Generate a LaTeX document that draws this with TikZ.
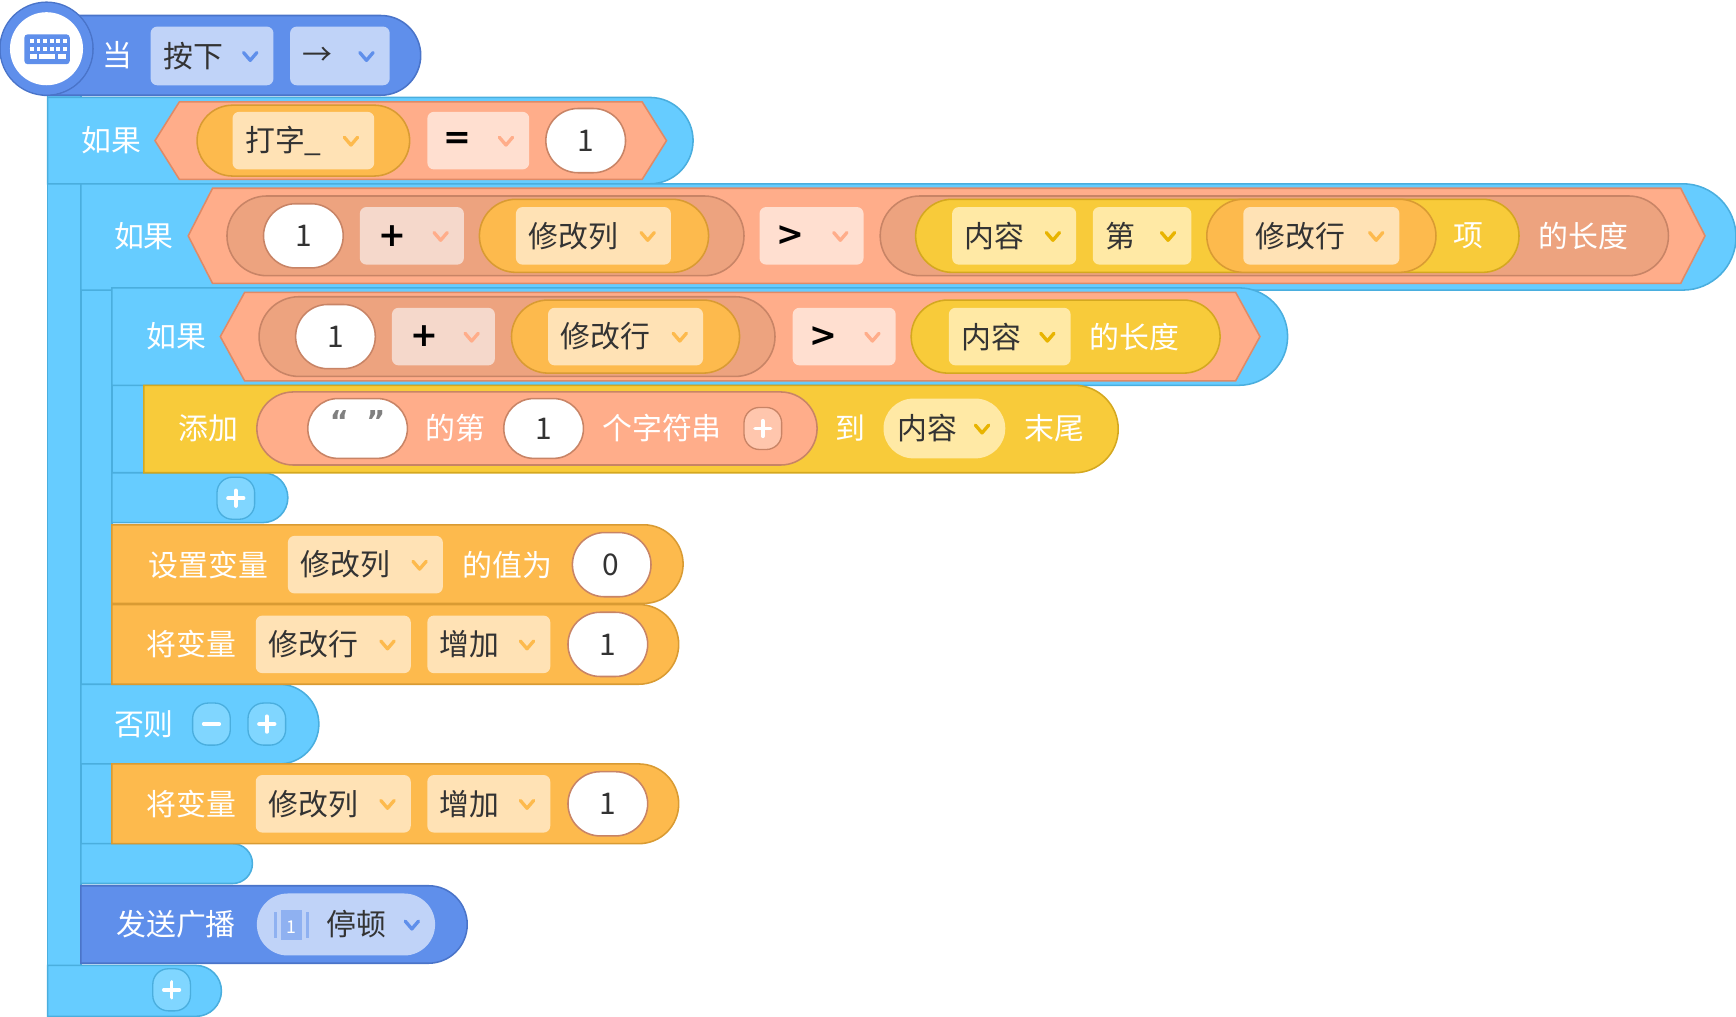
\documentclass[tikz,border=0pt]{standalone}
\usepackage{fontspec}
\setmainfont{Noto Sans CJK SC}
\newfontfamily\symf{DejaVu Sans}
\definecolor{hatblue}{HTML}{5F8FEB}
\definecolor{hatline}{HTML}{4A74C9}
\definecolor{hddc}{HTML}{C0D3F8}
\definecolor{skyc}{HTML}{66CCFF}
\definecolor{skyl}{HTML}{4AAEDE}
\definecolor{skyp}{HTML}{80D6FF}
\definecolor{salc}{HTML}{FFAD8A}
\definecolor{sall}{HTML}{E08A66}
\definecolor{dsalc}{HTML}{EDA37F}
\definecolor{dsall}{HTML}{C88466}
\definecolor{orc}{HTML}{FDBA4D}
\definecolor{orl}{HTML}{D99B33}
\definecolor{orddc}{HTML}{FFE2B5}
\definecolor{ylc}{HTML}{F8CB3A}
\definecolor{yll}{HTML}{D4A820}
\definecolor{ylddc}{HTML}{FFE9A5}
\definecolor{ylchev}{HTML}{E8B400}
\definecolor{sddc}{HTML}{FFDFD0}
\definecolor{lddc}{HTML}{F5D8CB}
\definecolor{txt}{HTML}{333333}
\newcounter{nn}
\newcommand\T[4][wt]{\stepcounter{nn}\node[#1] (t\thenn) at ({#2},{#3}) {#4};}
\newcommand\chev[3]{\draw[#3,line width=1.5pt,line cap=round,line join=round] ({#1-6},{#2-3}) -- ({#1},{#2+4}) -- ({#1+6},{#2-3});}
\newcommand\blk[5]{\pgfmathsetmacro\rr{(#4-#2)/2}\draw[#5] (#1,#2) -- ({#3-\rr},#2) arc(-90:90:\rr) -- (#1,#4) -- cycle;}
\newcommand\pill[5]{\pgfmathsetmacro\rr{(#4-#2)/2}\draw[#5] ({#1+\rr},#2) -- ({#3-\rr},#2) arc(-90:90:\rr) -- ({#1+\rr},#4) arc(90:270:\rr) -- cycle;}
\newcommand\hex[5]{\draw[#5] (#1,{(#2+#4)/2}) -- ({#1+22},#2) -- ({#3-22},#2) -- (#3,{(#2+#4)/2}) -- ({#3-22},#4) -- ({#1+22},#4) -- cycle;}
\newcommand\dd[7]{\draw[#5,rounded corners=3pt] (#1,#2) rectangle (#3,#4);\T[bt,anchor=west]{#1+11}{(#2+#4)/2}{#6}\chev{#3-21}{(#2+#4)/2}{#7}}
\newcommand\btn[4]{\draw[#3,rounded corners=7pt] ({#1-17},{#2-19}) rectangle ({#1+17},{#2+19});
 \draw[white,line width=1.7pt,line cap=round] ({#1-7},#2) -- ({#1+7},#2);
 \ifnum#4=1 \draw[white,line width=1.7pt,line cap=round] (#1,{#2-7}) -- (#1,{#2+7});\fi}
\begin{document}
\begin{tikzpicture}[x=0.5pt,y=-0.5pt,
 wt/.style={white,font=\fontsize{13.5}{15}\selectfont,inner sep=0pt},
 bt/.style={txt,font=\fontsize{13.5}{15}\selectfont,inner sep=0pt},
 sym/.style={black,font=\symf\bfseries\fontsize{15}{15}\selectfont,inner sep=0pt},
 hat/.style={fill=hatblue,draw=hatline,line width=0.7pt},
 hdd/.style={fill=hddc,draw=none},
 sky/.style={fill=skyc,draw=skyl,line width=0.7pt},
 skyb/.style={fill=skyp,draw=skyl,line width=0.6pt},
 salhex/.style={fill=salc,draw=sall,line width=0.7pt},
 sal/.style={fill=salc,draw=dsall,line width=0.7pt},
 salb/.style={fill=salc!70!white,draw=dsall,line width=0.6pt},
 dsal/.style={fill=dsalc,draw=dsall,line width=0.7pt},
 whc/.style={fill=white,draw=dsall,line width=0.7pt},
 varc/.style={fill=orc,draw=orl,line width=0.7pt},
 vdd/.style={fill=orddc,draw=none},
 orblk/.style={fill=orc,draw=orl,line width=0.7pt},
 ylw/.style={fill=ylc,draw=yll,line width=0.7pt},
 ylwblk/.style={fill=ylc,draw=yll,line width=0.7pt},
 ydd/.style={fill=ylddc,draw=none},
 sdd/.style={fill=sddc,draw=none},
 ldd/.style={fill=lddc,draw=none}]
\useasboundingbox (0,0) rectangle (1568,918);
% outer if
\draw[sky] (43,86) rectangle (73,918);
\blk{43}{872}{200}{918}{sky}
\blk{43}{88}{626}{166}{sky}
\T{101}{127}{如果}
\hex{140}{92}{602}{162}{salhex}
\pill{178}{95}{370}{159}{varc}
\dd{210}{101}{338}{153}{vdd}{打字\_}{orc}
\draw[sdd,rounded corners=3pt] (386,101) rectangle (478,153);
\T[sym]{413}{127}{=}\chev{457}{127}{salc}
\pill{493}{98}{565}{156}{whc}\T[bt]{529}{127}{1}
% if-else
\draw[sky] (73,166) rectangle (101,798);
\blk{73}{618}{288}{690}{sky}
\blk{73}{762}{228}{798}{sky}
\blk{73}{166}{1568}{262}{sky}
\T{130}{213}{如果}
\hex{170}{170}{1540}{256}{salhex}
\pill{205}{177}{672}{249}{dsal}
\pill{238}{184}{310}{242}{whc}\T[bt]{274}{213}{1}
\draw[ldd,rounded corners=3pt] (325,187) rectangle (419,239);
\T[sym]{354}{213}{+}\chev{398}{213}{salc}
\pill{433}{180}{640}{246}{varc}
\dd{466}{187}{606}{239}{vdd}{修改列}{orc}
\draw[sdd,rounded corners=3pt] (686,187) rectangle (780,239);
\T[sym]{714}{213}{>}\chev{759}{213}{salc}
\pill{795}{177}{1507}{249}{dsal}
\pill{827}{180}{1372}{246}{ylw}
\dd{860}{187}{972}{239}{ydd}{内容}{ylchev}
\dd{987}{187}{1076}{239}{ydd}{第}{ylchev}
\pill{1090}{180}{1297}{246}{varc}
\dd{1123}{187}{1264}{239}{vdd}{修改行}{orc}
\T{1326}{213}{项}
\T{1430}{213}{的长度}
% inner if
\draw[sky] (101,260) rectangle (130,472);
\blk{101}{427}{260}{472}{sky}
\blk{101}{260}{1163}{348}{sky}
\T{159}{304}{如果}
\hex{199}{264}{1138}{344}{salhex}
\pill{234}{268}{700}{340}{dsal}
\pill{267}{275}{339}{333}{whc}\T[bt]{303}{304}{1}
\draw[ldd,rounded corners=3pt] (354,278) rectangle (447,330);
\T[sym]{383}{304}{+}\chev{426}{304}{salc}
\pill{462}{271}{668}{337}{varc}
\dd{495}{278}{635}{330}{vdd}{修改行}{orc}
\draw[sdd,rounded corners=3pt] (716,278) rectangle (809,330);
\T[sym]{744}{304}{>}\chev{788}{304}{salc}
\pill{823}{271}{1102}{337}{ylw}
\dd{857}{278}{967}{330}{ydd}{内容}{ylchev}
\T{1025}{304}{的长度}
\btn{213}{450}{skyb}{1}
% add block
\blk{130}{348}{1010}{427}{ylwblk}
\T{188}{387}{添加}
\pill{232}{354}{738}{420}{sal}
\pill{278}{360}{368}{414}{whc}
\T[gray,font=\symf\bfseries\fontsize{13}{14}\selectfont,inner sep=0pt]{323}{380}{“\hspace{8pt}”}
\T{411}{387}{的第}
\pill{455}{360}{527}{414}{whc}\T[bt]{491}{387}{1}
\T{598}{387}{个字符串}
\btn{689}{387}{salb}{1}
\T{768}{387}{到}
\pill{798}{360}{908}{414}{ydd}
\T[bt,anchor=west]{810}{387}{内容}\chev{887}{387}{ylchev}
\T{952}{387}{末尾}
% set var
\blk{101}{474}{617}{545}{orblk}
\T{188}{510}{设置变量}
\dd{260}{484}{400}{536}{vdd}{修改列}{orc}
\T{458}{510}{的值为}
\pill{517}{481}{588}{539}{whc}\T[bt]{552}{510}{0}
\blk{101}{546}{613}{618}{orblk}
\T{173}{582}{将变量}
\dd{231}{556}{371}{608}{vdd}{修改行}{orc}
\dd{386}{556}{497}{608}{vdd}{增加}{orc}
\pill{513}{553}{585}{611}{whc}\T[bt]{549}{582}{1}
% else
\T{130}{654}{否则}
\btn{191}{654}{skyb}{0}
\btn{241}{654}{skyb}{1}
\blk{101}{690}{613}{762}{orblk}
\T{173}{726}{将变量}
\dd{231}{700}{371}{752}{vdd}{修改列}{orc}
\dd{386}{700}{497}{752}{vdd}{增加}{orc}
\pill{513}{697}{585}{755}{whc}\T[bt]{549}{726}{1}
% broadcast
\blk{73}{800}{422}{870}{hat}
\T{159}{835}{发送广播}
\pill{232}{807}{393}{863}{hdd}
\fill[hatblue!70!white] (254,822) rectangle (273,849);
\draw[hatblue!70!white,line width=1.2pt] (249,824) -- (249,847) (278,824) -- (278,847);
\T[white,font=\fontsize{8}{9}\selectfont,inner sep=0pt]{263.5}{837}{1}
\T[bt]{322}{835}{停顿}
\chev{372}{835}{hatblue}
\btn{155}{894}{skyb}{1}
% hat block
\blk{40}{14}{380}{86}{hat}
\draw[hat] (42,44) circle (42);
\fill[hatblue] (42,44) circle (41.3);
\fill[white] (42,44) circle (33);
\fill[hatblue,rounded corners=1.5pt] (22,31) rectangle (63,58);
\foreach \xx in {27,33,39,45,51,57} {\fill[white] (\xx,35) rectangle (\xx+3.5,39); \fill[white] (\xx,42) rectangle (\xx+3.5,46);}
\fill[white] (27,49) rectangle (33,53); \fill[white] (35,49) rectangle (50,53); \fill[white] (52,49) rectangle (60,53);
\T{106}{50}{当}
\dd{136}{24}{247}{77}{hdd}{按下}{hatblue}
\dd{262}{24}{352}{77}{hdd}{→}{hatblue}
\end{tikzpicture}
\end{document}
